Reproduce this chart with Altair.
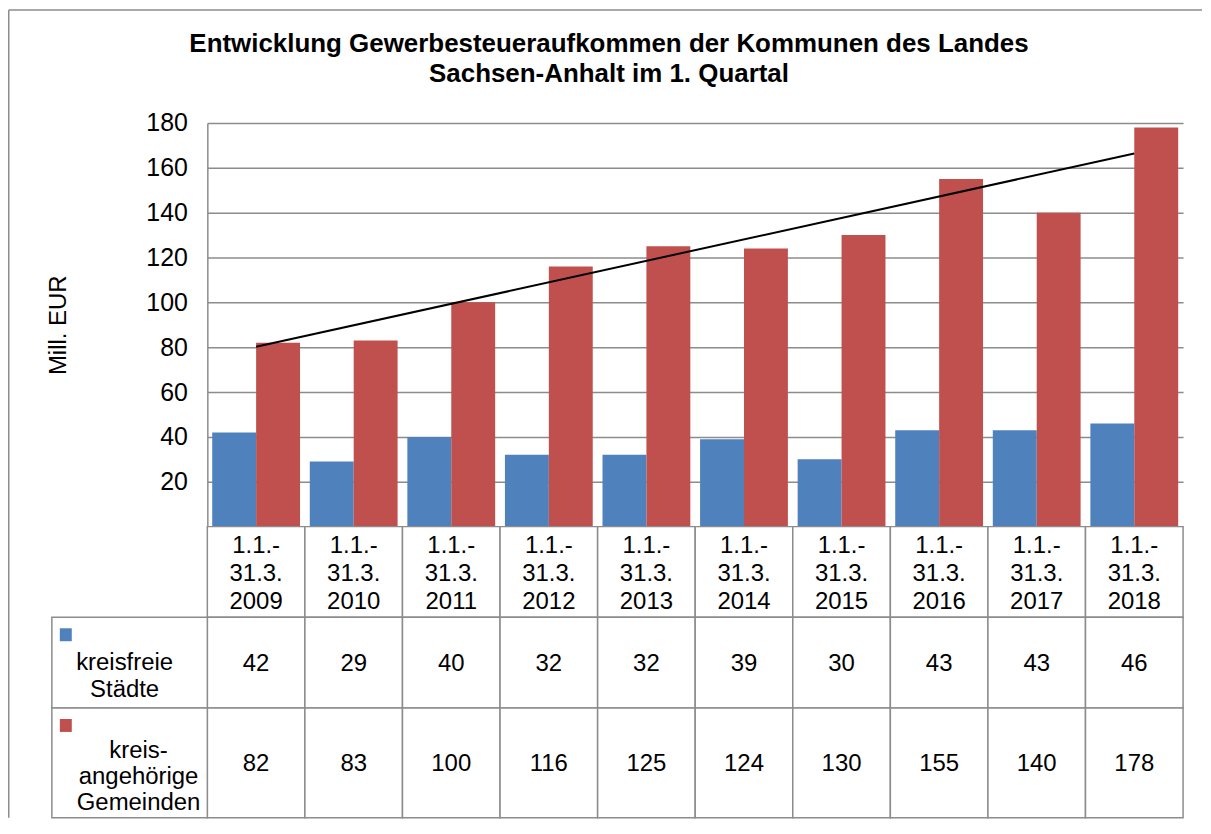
import altair as alt
import pandas as pd

# ---------------- data ----------------
years = ["2009", "2010", "2011", "2012", "2013", "2014", "2015", "2016", "2017", "2018"]
periods = ["1.1.-\n31.3.\n" + y for y in years]
kreisfreie = [42, 29, 40, 32, 32, 39, 30, 43, 43, 46]
kreisangehoerige = [82, 83, 100, 116, 125, 124, 130, 155, 140, 178]
series = ["kreisfreie Städte", "kreisangehörige Gemeinden"]
legend_lines = [["kreisfreie", "Städte"], ["kreis-", "angehörige", "Gemeinden"]]
colors = ["#4F81BD", "#C0504D"]
y_ticks = [20, 40, 60, 80, 100, 120, 140, 160, 180]
title_lines = ["Entwicklung Gewerbesteueraufkommen der Kommunen des Landes",
               "Sachsen-Anhalt im 1. Quartal"]
y_title = "Mill. EUR"

rows = []
for i, p in enumerate(periods):
    rows.append(dict(period=p, idx=i, series=series[0], value=kreisfreie[i]))
    rows.append(dict(period=p, idx=i, series=series[1], value=kreisangehoerige[i]))
df = pd.DataFrame(rows)
df_periods = pd.DataFrame({"period": periods})

# ---------------- style ----------------
FONT = "Liberation Sans"
GRID = "#8c8c8c"
W, H = 979, 405
ROW_H = [91, 91, 110]
one = alt.InlineData(values=[{"k": 0}])

# ---------------- top chart ----------------
xb = alt.Scale(domain=periods, paddingInner=0.1, paddingOuter=0.05)
ysc = alt.Scale(domain=[0, 180], nice=False, zero=True)
y_enc = alt.Y(
    "value:Q", scale=ysc,
    axis=alt.Axis(values=y_ticks, title=y_title, grid=True, gridColor=GRID, gridWidth=1.5,
                  domainColor=GRID, domainWidth=1.5, ticks=False, labelPadding=20,
                  labelFontSize=25, labelFont=FONT, labelColor="black",
                  titleFont=FONT, titleFontSize=24, titleFontWeight="normal",
                  titleColor="black", titlePadding=76),
)

bars = alt.Chart(df).mark_bar().encode(
    x=alt.X("period:N", scale=xb, axis=None),
    xOffset=alt.XOffset("series:N", scale=alt.Scale(domain=series, paddingInner=0, paddingOuter=0)),
    y=y_enc,
    color=alt.Color("series:N", scale=alt.Scale(domain=series, range=colors), legend=None),
)

trend = (
    alt.Chart(df)
    .transform_filter(alt.datum.series == series[1])
    .transform_regression("idx", "value")
    .mark_line(color="black", strokeWidth=2)
    .encode(
        x=alt.X("idx:Q", scale=alt.Scale(domain=[-0.5, 9.5], nice=False, zero=False), axis=None),
        y=y_enc,
    )
)

frame_v = alt.Chart(one).mark_rule(color=GRID, strokeWidth=1.5).encode(
    x=alt.value(-199.25), y=alt.value(-113.25), y2=alt.value(697))
frame_h = alt.Chart(one).mark_rule(color=GRID, strokeWidth=1.5).encode(
    x=alt.value(-199.25), x2=alt.value(998), y=alt.value(-113.25))
title = alt.Chart(one).mark_text(
    font=FONT, fontSize=26, fontWeight="bold", align="center", baseline="alphabetic",
    lineHeight=30, lineBreak="\n", color="black",
).encode(x=alt.value(403), y=alt.value(-71.3), text=alt.value("\n".join(title_lines)))

top = alt.layer(bars, trend, frame_v, frame_h, title).resolve_scale(x="independent").properties(
    width=W, height=H)

# ---------------- table ----------------
tx = alt.Scale(domain=periods, paddingInner=0, paddingOuter=0)


def cells(data):
    return alt.Chart(data).mark_rect(fill="white", stroke=GRID, strokeWidth=1.5).encode(
        x=alt.X("period:N", scale=tx, axis=None))


header = alt.layer(
    cells(df_periods),
    alt.Chart(df_periods).mark_text(
        font=FONT, fontSize=24, lineHeight=28, lineBreak="\n", baseline="alphabetic",
        align="center", color="black",
    ).encode(x=alt.X("period:N", scale=tx, axis=None), y=alt.value(26.3), text="period:N"),
).properties(width=W, height=ROW_H[0])


def data_row(k, h, text_y, leg_x, leg_y, leg_lh):
    d = df[df["series"] == series[k]]
    leg_cell = alt.Chart(one).mark_rect(fill="white", stroke=GRID, strokeWidth=1.5).encode(
        x=alt.value(-156), x2=alt.value(0), y=alt.value(0), y2=alt.value(h))
    square = alt.Chart(one).mark_rect(color=colors[k]).encode(
        x=alt.value(-148), x2=alt.value(-136), y=alt.value(11), y2=alt.value(24))
    leg_text = alt.Chart(one).mark_text(
        font=FONT, fontSize=24, lineHeight=leg_lh, lineBreak="\n", baseline="alphabetic",
        align="center", color="black",
    ).encode(x=alt.value(leg_x), y=alt.value(leg_y), text=alt.value("\n".join(legend_lines[k])))
    vals = alt.Chart(d).mark_text(
        font=FONT, fontSize=24, baseline="alphabetic", align="center", color="black",
    ).encode(x=alt.X("period:N", scale=tx, axis=None), y=alt.value(text_y), text="value:Q")
    return alt.layer(cells(d), vals, leg_cell, square, leg_text).properties(width=W, height=h)


row1 = data_row(0, ROW_H[1], 53.7, -83, 52.7, 27)
row2 = data_row(1, ROW_H[2], 63.5, -69, 50.5, 26)

chart = (
    alt.vconcat(top, header, row1, row2, spacing=0, bounds="flush",
                padding={"left": 0, "top": 0, "right": 0, "bottom": 0})
    .resolve_scale(x="independent", y="independent", color="independent")
    .configure_view(stroke=None)
)

chart.save("out.html", embed_options={"renderer": "svg", "actions": False})
